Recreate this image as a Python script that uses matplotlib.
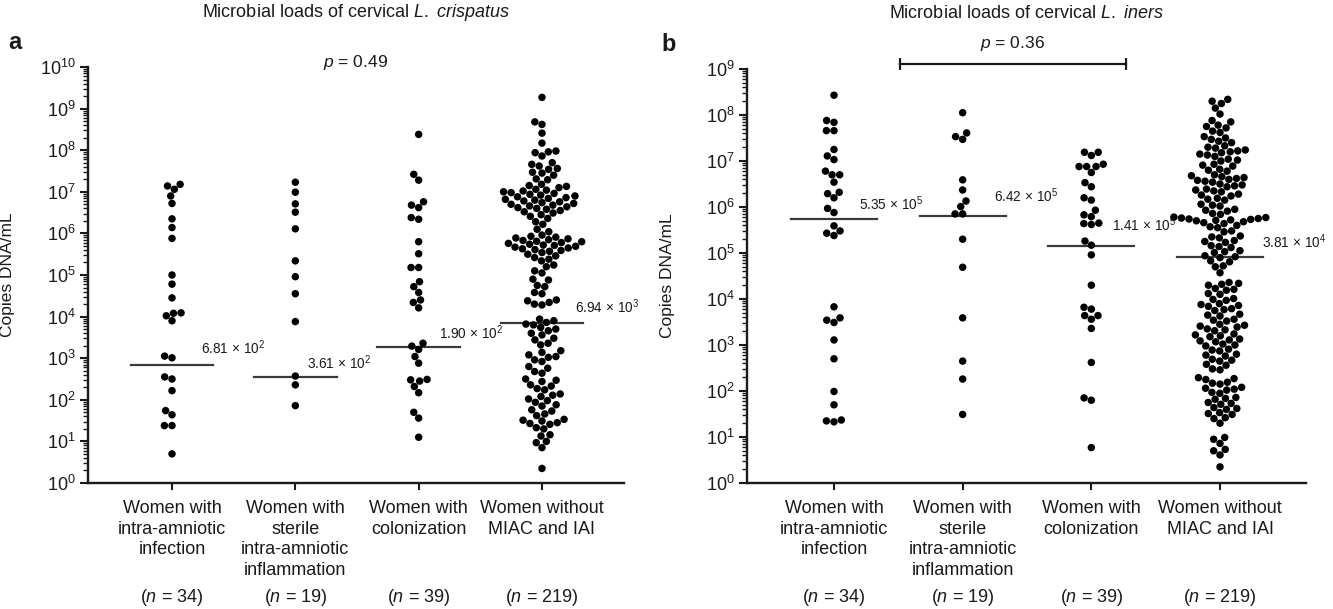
import numpy as np
import matplotlib
matplotlib.use('Agg')
import matplotlib.pyplot as plt
from matplotlib import transforms
from matplotlib.ticker import LogLocator, NullFormatter

plt.rcParams['font.family'] = ['Liberation Sans', 'DejaVu Sans']
plt.rcParams['mathtext.fontset'] = 'custom'
plt.rcParams['mathtext.rm'] = 'Liberation Sans'
plt.rcParams['mathtext.it'] = 'Liberation Sans:italic'
plt.rcParams['mathtext.bf'] = 'Liberation Sans:bold'

# ---------------- data ----------------
categories = ["Women with\nintra-amniotic\ninfection",
              "Women with\nsterile\nintra-amniotic\ninflammation",
              "Women with\ncolonization",
              "Women without\nMIAC and IAI"]
group_n = [34, 19, 39, 219]

# L. crispatus, log10(copies DNA/mL)
crisp_g1_log = [7.06, 7.14, 6.90, 7.18, 6.72, 6.35, 6.14, 5.88, 5.00, 4.78, 4.45, 4.08, 4.02,
                4.09, 3.90, 3.01, 3.05, 2.50, 2.55, 2.22, 1.74, 1.64, 1.38, 1.38, 0.70]
crisp_g2_log = [7.23, 6.99, 6.71, 6.51, 6.11, 5.34, 4.96, 4.55, 3.88, 2.57, 2.36, 1.86]
crisp_g3_log = [8.38, 7.42, 7.28, 6.76, 6.62, 6.68, 6.34, 6.38, 5.80, 5.51, 5.18, 5.18, 4.72,
                4.84, 4.58, 4.40, 4.34, 4.21, 3.36, 3.21, 3.29, 3.04, 2.88, 2.49, 2.48, 2.32,
                2.45, 2.17, 1.70, 1.56, 1.10]
crisp_g4_log = [9.27, 8.68, 8.62, 8.41, 8.17, 7.98, 7.96, 7.94, 7.86,
                7.70, 7.66, 7.62, 7.56, 7.54, 7.47, 7.45, 7.40, 7.31, 7.29,
                7.18, 7.15, 7.13, 7.10, 7.06, 7.04, 7.02, 7.00, 6.98, 6.96, 6.94, 6.92, 6.90, 6.88,
                6.86, 6.84, 6.82, 6.80, 6.78, 6.76, 6.74, 6.72, 6.70, 6.68, 6.66, 6.64, 6.62, 6.60,
                6.58, 6.55, 6.52, 6.49, 6.45, 6.41, 6.36,
                6.28, 6.22, 6.10, 6.04,
                5.96, 5.93, 5.91, 5.89, 5.87, 5.85, 5.83, 5.81, 5.80, 5.78, 5.76, 5.74, 5.72, 5.71,
                5.69, 5.67, 5.65, 5.63, 5.61, 5.59, 5.57, 5.54, 5.50, 5.46, 5.42, 5.38, 5.34,
                5.24, 5.20, 5.10, 5.05, 4.90, 4.88, 4.75, 4.72, 4.58, 4.55, 4.40, 4.38, 4.34, 4.30,
                4.28,
                3.94, 3.90, 3.86, 3.82, 3.80, 3.74, 3.70, 3.66, 3.60, 3.56, 3.48, 3.44, 3.36, 3.32,
                3.18, 3.14, 3.08, 3.04, 3.02, 2.96, 2.92, 2.80, 2.76, 2.68, 2.64, 2.50, 2.47, 2.44,
                2.36, 2.33, 2.27, 2.24, 2.14, 2.11, 2.08, 2.02, 1.98, 1.94, 1.88, 1.85, 1.76, 1.73,
                1.66, 1.62, 1.53, 1.51, 1.49, 1.45, 1.43, 1.41, 1.33, 1.30, 1.16, 1.13, 1.00, 0.97,
                0.85, 0.35]
crisp_line_vals = [6.81e2, 3.61e2, 1.90e3, 6.94e3]
crisp_labels = ["6.81 × 10$^{2}$", "3.61 × 10$^{2}$", "1.90 × 10$^{2}$", "6.94 × 10$^{3}$"]
crisp_p = "$\\it{p}$ = 0.49"

# L. iners, log10(copies DNA/mL)
iners_g1_log = [8.43, 7.88, 7.84, 7.66, 7.66, 7.25, 7.11, 7.03, 6.78, 6.70, 6.70, 6.54, 6.29,
                6.32, 6.20, 5.97, 5.88, 5.59, 5.38, 5.43, 5.48, 3.83, 3.54, 3.49, 3.59, 3.11,
                2.70, 1.99, 1.70, 1.33, 1.37, 1.35]
iners_g2_log = [8.05, 7.53, 7.61, 7.47, 6.59, 6.37, 6.13, 6.01, 5.85, 5.85, 5.30, 4.69, 3.59,
                2.65, 2.26, 1.49]
iners_g3_log = [7.19, 7.12, 7.19, 6.88, 6.88, 6.93, 6.88, 6.75, 6.44, 6.53, 6.20, 6.15, 5.93,
                5.79, 5.83, 5.62, 5.64, 5.65, 5.17, 5.26, 4.96, 4.30, 3.64, 3.78, 3.56, 3.82,
                3.64, 3.36, 2.62, 1.85, 1.80, 0.77]
iners_g4_log = [8.34, 8.30, 8.25, 8.15, 8.02, 7.88, 7.85, 7.78, 7.75, 7.72, 7.65, 7.62, 7.53,
                7.50, 7.47, 7.43, 7.40, 7.33, 7.30, 7.28, 7.24, 7.22, 7.20, 7.18, 7.15, 7.13,
                7.10, 7.04, 7.02, 7.00, 6.93, 6.91, 6.89, 6.82, 6.80, 6.78, 6.70, 6.68, 6.66,
                6.64, 6.62, 6.60, 6.58, 6.56, 6.54, 6.50, 6.48, 6.46, 6.44, 6.39, 6.37, 6.35,
                6.33, 6.28, 6.26, 6.24, 6.19, 6.17, 6.15, 6.06, 6.04, 6.02, 5.95, 5.93, 5.91,
                5.86, 5.84, 5.78, 5.77, 5.76, 5.75, 5.74, 5.73, 5.72, 5.71, 5.70, 5.68, 5.66,
                5.64, 5.60, 5.57, 5.55, 5.48, 5.46, 5.37, 5.35, 5.33, 5.27, 5.25, 5.23, 5.16,
                5.14, 5.12, 5.05, 5.03, 5.01, 4.94, 4.92, 4.90, 4.83, 4.81, 4.72, 4.70, 4.57,
                4.36, 4.34, 4.32, 4.30, 4.23, 4.21, 4.19, 4.12, 4.10, 4.01, 3.99, 3.97, 3.90,
                3.88, 3.86, 3.84, 3.79, 3.77, 3.75, 3.67, 3.65, 3.63, 3.56, 3.54, 3.52, 3.45,
                3.43, 3.41, 3.39, 3.35, 3.33, 3.31, 3.24, 3.22, 3.20, 3.18, 3.13, 3.11, 3.09,
                3.07, 3.02, 3.00, 2.98, 2.91, 2.89, 2.87, 2.80, 2.78, 2.76, 2.69, 2.67, 2.65,
                2.58, 2.56, 2.48, 2.46, 2.29, 2.27, 2.25, 2.19, 2.17, 2.15, 2.08, 2.06, 2.04,
                2.02, 1.97, 1.95, 1.86, 1.84, 1.82, 1.75, 1.73, 1.71, 1.64, 1.62, 1.60, 1.53,
                1.51, 1.49, 1.42, 1.40, 1.30, 0.99, 0.95, 0.86, 0.73, 0.70, 0.61, 0.35]
iners_line_vals = [5.35e5, 6.42e5, 1.41e5, 8.0e4]
iners_labels = ["5.35 × 10$^{5}$", "6.42 × 10$^{5}$", "1.41 × 10$^{5}$", "3.81 × 10$^{4}$"]
iners_p = "$\\it{p}$ = 0.36"

# ---------------- style ----------------
TXT = '#1a1a1a'
DOT_PX = 7.6
LBL_FS = 13

fig = plt.figure(figsize=(13.33, 6.09), dpi=100)
axA = fig.add_axes([88/1333, 1-483/609, 536/1333, 416/609])
axB = fig.add_axes([747/1333, 1-483/609, 559/1333, 414/609])


def swarm_x(ax, xc, vals, d):
    pts = ax.transData.transform(np.column_stack([np.full(len(vals), xc), vals]))
    ys = pts[:, 1]
    order = np.argsort(ys, kind='stable')
    px_l, py_l = [], []
    offs = np.zeros(len(vals))
    for i in order:
        y = ys[i]
        nb = [(px, py) for px, py in zip(px_l, py_l) if abs(py - y) < d]
        cands = [0.0]
        for px, py in nb:
            dx = np.sqrt(d * d - (py - y) ** 2)
            cands += [px - dx, px + dx]
        cands = sorted(cands, key=lambda c: (round(abs(c), 3), c))
        chosen = cands[-1]
        for c in cands:
            if all((c - px) ** 2 + (y - py) ** 2 >= d * d - 1e-6 for px, py in nb):
                chosen = c
                break
        offs[i] = chosen
        px_l.append(chosen)
        py_l.append(y)
    x0 = ax.transData.transform((xc, 1.0))[0]
    x1 = ax.transData.transform((xc + 1, 1.0))[0]
    return xc + offs / (x1 - x0)


def setup(ax, ymax_exp, xr):
    ax.set_yscale('log')
    ax.set_ylim(1, 10 ** ymax_exp)
    ax.set_xlim(*xr)
    for s in ['top', 'right']:
        ax.spines[s].set_visible(False)
    for s in ['left', 'bottom']:
        ax.spines[s].set_linewidth(1.7)
        ax.spines[s].set_color(TXT)
    ax.yaxis.set_major_locator(LogLocator(base=10, numticks=30))
    ax.yaxis.set_minor_locator(LogLocator(base=10, subs=np.arange(2, 10), numticks=300))
    ax.yaxis.set_minor_formatter(NullFormatter())
    ax.tick_params(axis='y', which='major', direction='out', length=6, width=1.5,
                   labelsize=LBL_FS, colors=TXT, pad=3)
    ax.tick_params(axis='y', which='minor', direction='out', length=3.5, width=1.0, colors=TXT)
    ax.set_xticks([1, 2, 3, 4])
    ax.set_xticklabels(categories, fontsize=LBL_FS, color=TXT, linespacing=1.3, va='top')
    ax.tick_params(axis='x', which='major', direction='out', length=5, width=1.5,
                   colors=TXT, pad=7)
    ax.set_ylabel('Copies DNA/mL', fontsize=LBL_FS - 0.5, color=TXT)


def panel(ax, groups, line_vals, labels, lbl_offsets, ylab_x, n_y):
    for i, g in enumerate(groups):
        vals = 10 ** np.array(g)
        xs = swarm_x(ax, i + 1, vals, DOT_PX)
        ax.scatter(xs, vals, s=29, color='black', edgecolors='none', zorder=3, clip_on=False)
        ax.plot([i + 1 - 0.335, i + 1 + 0.335], [line_vals[i]] * 2, color='#3a3a3a', lw=1.6,
                zorder=2)
        dx, dy = lbl_offsets[i]
        ax.annotate(labels[i], (i + 1, line_vals[i]), xytext=(dx * 0.72, dy * 0.72),
                    textcoords='offset points', ha='left', va='center', fontsize=9.8,
                    color=TXT)
    tr = transforms.blended_transform_factory(ax.transData, ax.transAxes)
    for i, n in enumerate(group_n):
        ax.text(i + 1, n_y, '($\\it{n}$ = %d)' % n, transform=tr, ha='center', va='center',
                fontsize=LBL_FS, color=TXT)
    ax.yaxis.set_label_coords(ylab_x, 0.5)


setup(axA, 10, (1 - 84/123.3, 4 + 82/123.3))
setup(axB, 9, (1 - 87/128.7, 4 + 86/128.7))

panel(axA, [crisp_g1_log, crisp_g2_log, crisp_g3_log, crisp_g4_log], crisp_line_vals,
      crisp_labels, [(29, 17), (12, 14), (20, 14), (33, 16)], -0.136, -0.275)
panel(axB, [iners_g1_log, iners_g2_log, iners_g3_log, iners_g4_log], iners_line_vals,
      iners_labels, [(25, 16), (31, 20), (21, 21), (42, 16)], -0.129, -0.277)

# titles, panel letters, p-values
axA.text(0.5, 1.13, 'Microbial loads of cervical $\\it{L.}$ $\\it{crispatus}$',
         transform=axA.transAxes, ha='center', va='center', fontsize=13, color=TXT)
axB.text(0.5, 1.135, 'Microbial loads of cervical $\\it{L.}$ $\\it{iners}$',
         transform=axB.transAxes, ha='center', va='center', fontsize=13, color=TXT)
axA.text(-0.136, 1.06, 'a', transform=axA.transAxes, ha='center', va='center', fontsize=17,
         fontweight='bold', color=TXT)
axB.text(-0.141, 1.06, 'b', transform=axB.transAxes, ha='center', va='center', fontsize=17,
         fontweight='bold', color=TXT)

trA = transforms.blended_transform_factory(axA.transData, axA.transAxes)
axA.text(2.49, 1.012, crisp_p, transform=trA, ha='center', va='center', fontsize=12.5, color=TXT)

trB = transforms.blended_transform_factory(axB.transData, axB.transAxes)
axB.plot([1.51, 3.27], [1.012, 1.012], transform=trB, color=TXT, lw=1.6, clip_on=False,
         marker='|', markersize=8, markeredgewidth=1.6)
axB.text(2.39, 1.062, iners_p, transform=trB, ha='center', va='center', fontsize=12.5, color=TXT)

fig.savefig('out.png', dpi=100, facecolor='white')
